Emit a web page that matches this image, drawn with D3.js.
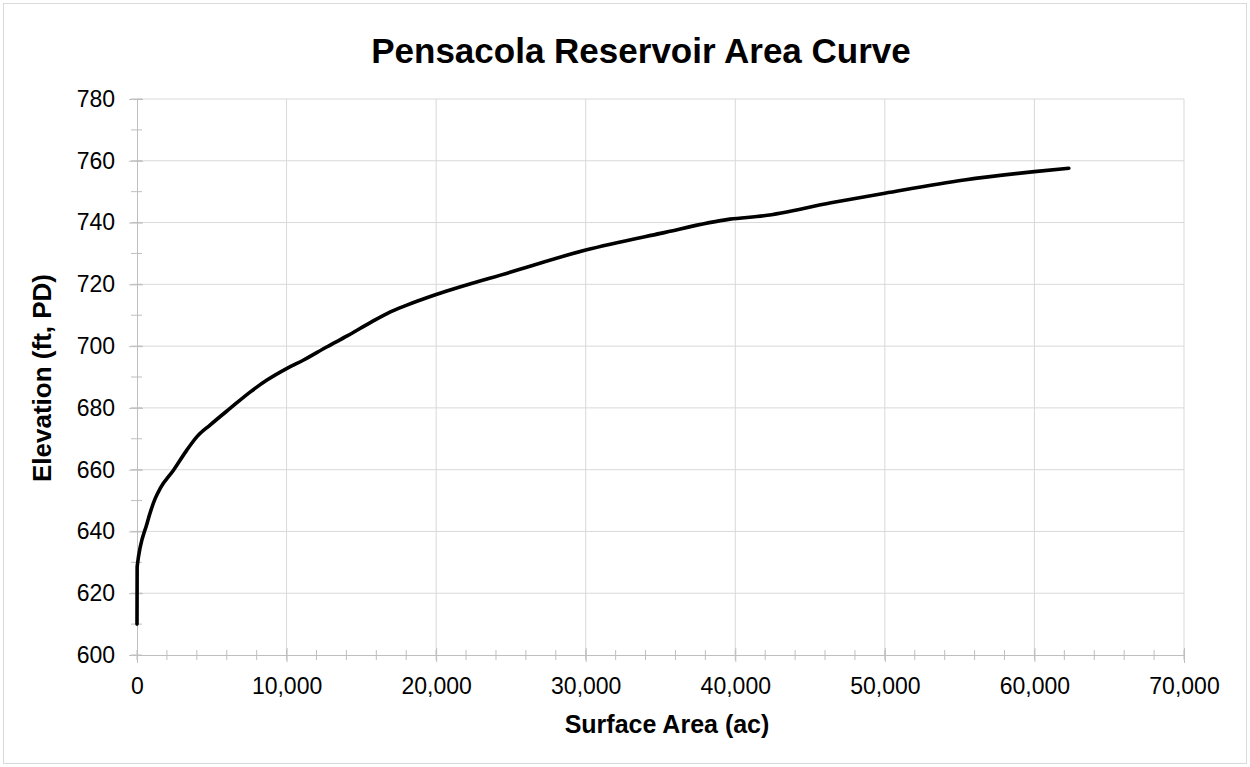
<!DOCTYPE html>
<html><head><meta charset="utf-8">
<script src="https://cdn.jsdelivr.net/npm/d3@7"></script>
<style>body{margin:0;background:#fff;}svg{display:block;font-family:"Liberation Sans",Arial,sans-serif;}</style>
</head><body>
<svg id="c" width="1250" height="767"></svg>
<script>
const title = "Pensacola Reservoir Area Curve";
const xTitle = "Surface Area (ac)";
const yTitle = "Elevation (ft, PD)";
const area = [0, 10, 670, 1220, 1560, 2450, 3340, 4010, 4900, 6240, 7580, 8690, 10030, 11140, 12710, 14050, 15600, 16940, 18000, 20000, 25000, 30000, 35000, 39640, 41900, 46400, 50000, 55300, 60000, 62300];
const elev = [610, 628.6, 642.6, 650.7, 654, 659.9, 666.4, 670.7, 674.5, 679.9, 685.2, 689, 692.8, 695.5, 699.8, 703.3, 707.6, 711.1, 713.2, 716.7, 724.0, 731.1, 736.5, 741.1, 742.2, 746.4, 749.5, 753.8, 756.5, 757.6];
const xTicks = [0, 10000, 20000, 30000, 40000, 50000, 60000, 70000];
const yTicks = [600, 620, 640, 660, 680, 700, 720, 740, 760, 780];

const svg = d3.select("#c");
const L = 137, R = 1184, T = 99, B = 655;
const x = d3.scaleLinear().domain([0, 70000]).range([L, R]);
const y = d3.scaleLinear().domain([600, 780]).range([B, T]);
const grid = "#d9d9d9", axc = "#bfbfbf";
const FF = "Liberation Sans, Arial, sans-serif";

svg.append("rect").attr("x", 3.5).attr("y", 3.5).attr("width", 1243).attr("height", 760)
  .attr("fill", "#fff").attr("stroke", "#d9d9d9");

// gridlines
svg.append("g").selectAll("line").data(yTicks.slice(1)).join("line")
  .attr("x1", L).attr("x2", R).attr("y1", d => y(d)).attr("y2", d => y(d))
  .attr("stroke", grid).attr("stroke-width", 1);
svg.append("g").selectAll("line").data(xTicks.slice(1)).join("line")
  .attr("y1", T).attr("y2", B).attr("x1", d => x(d)).attr("x2", d => x(d))
  .attr("stroke", grid).attr("stroke-width", 1);

// minor ticks
const xMinor = d3.range(0, 70001, 2000);
const yMinor = d3.range(600, 781, 10);
svg.append("g").selectAll("line").data(xMinor).join("line")
  .attr("x1", d => x(d)).attr("x2", d => x(d)).attr("y1", B - 5).attr("y2", B + 5)
  .attr("stroke", axc);
svg.append("g").selectAll("line").data(yMinor).join("line")
  .attr("x1", L - 6).attr("x2", L + 5).attr("y1", d => y(d)).attr("y2", d => y(d))
  .attr("stroke", axc);

// axes
const xAxis = d3.axisBottom(x).tickValues(xTicks).tickSize(8).tickFormat(d3.format(","));
const gx = svg.append("g").attr("transform", `translate(0,${B})`).call(xAxis);
gx.select(".domain").attr("stroke", axc);
gx.selectAll(".tick line").attr("stroke", axc).attr("y1", -7).attr("y2", 7);
gx.selectAll(".tick text").attr("y", 39).attr("dy", 0).attr("font-size", 23).attr("fill", "#000")
  .attr("font-family", FF);

const yAxis = d3.axisLeft(y).tickValues(yTicks).tickSize(8);
const gy = svg.append("g").attr("transform", `translate(${L},0)`).call(yAxis);
gy.select(".domain").attr("stroke", axc);
gy.selectAll(".tick line").attr("stroke", axc).attr("x1", -8).attr("x2", 6);
gy.selectAll(".tick text").attr("x", -22).attr("font-size", 23).attr("fill", "#000")
  .attr("font-family", FF);

// line
const pts = area.map((a, i) => [a, elev[i]]);
svg.append("path").datum(pts)
  .attr("d", d3.line().x(d => x(d[0])).y(d => y(d[1])).curve(d3.curveMonotoneX))
  .attr("fill", "none").attr("stroke", "#000").attr("stroke-width", 3.6)
  .attr("stroke-linecap", "round").attr("stroke-linejoin", "round");

// titles
svg.append("text").attr("x", 641).attr("y", 63).attr("text-anchor", "middle")
  .attr("font-size", 35).attr("font-weight", "bold").text(title);
svg.append("text").attr("x", 667).attr("y", 733).attr("text-anchor", "middle")
  .attr("font-size", 25).attr("font-weight", "bold").text(xTitle);
svg.append("text").attr("transform", "translate(51,378) rotate(-90)").attr("text-anchor", "middle")
  .attr("font-size", 26).attr("font-weight", "bold").text(yTitle);
</script>
</body></html>
